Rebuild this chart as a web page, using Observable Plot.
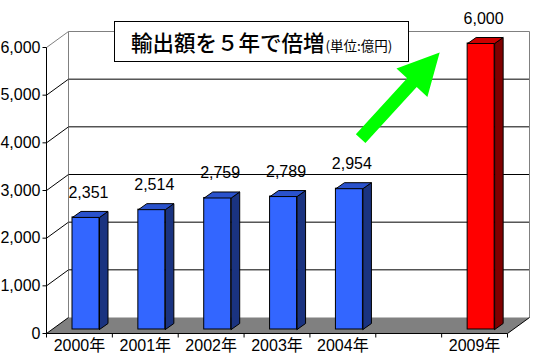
<!DOCTYPE html>
<html>
<head>
<meta charset="utf-8">
<script src="https://cdn.jsdelivr.net/npm/d3@7"></script>
<script src="https://cdn.jsdelivr.net/npm/@observablehq/plot@0.6"></script>
<style>
  html, body { margin: 0; padding: 0; background: #fff; }
  #wrap { position: relative; width: 547px; height: 359px; overflow: hidden; }
  #title {
    position: absolute; left: 114px; top: 21px; width: 293px; height: 39px;
    border: 1px solid #000; background: #fff; box-sizing: content-box;
    display: flex; align-items: center; padding-left: 0;
    font-family: "Noto Sans CJK JP", sans-serif; color: #000; white-space: nowrap;
  }
  #title .big { font-size: 21.5px; margin-left: 16px; font-weight: 500; }
  #title .small { font-size: 13.5px; position: relative; top: 3px; margin-left: 1px; }
</style>
</head>
<body>
<div id="wrap">
  <div id="chart"></div>
  <div id="title"><span class="big">輸出額を５年で倍増</span><span class="small">(単位:億円)</span></div>
</div>
<script>
// ---- data ----
const categories = ["2000年", "2001年", "2002年", "2003年", "2004年", "", "2009年"];
const values = [2351, 2514, 2759, 2789, 2954, null, 6000];
const yTicks = [0, 1000, 2000, 3000, 4000, 5000, 6000];
const highlight = "2009年";
const arrowFrom = [4.77, 4090];   // in chart units (category index, 億円)
const arrowTo = [5.97, 5895];

// ---- layout ----
const W = 547, H = 359;
const X0 = 46, X1 = 507, Y0 = 333, Y1 = 47;
const n = categories.length;
const yMax = 6000;
const kx = n / (X1 - X0);      // data units per pixel (x)
const ky = yMax / (Y0 - Y1);   // data units per pixel (y)
const backDX = 22, backDY = 16;           // depth of the 3D box (px)
const barOff = 26, barW = 27;             // front face position inside band (px)
const barLift = 4, barDX = 8.5, barDY = 6; // bar front plane lift and bar depth (px)

const palette = {
  blue: {front: "#3366ff", top: "#2a52cc", side: "#1a3380"},
  red: {front: "#ff0000", top: "#cc0000", side: "#800000"}
};

const bars = categories.map((c, i) => ({c, i, v: values[i]})).filter(d => d.v != null);
const colOf = d => d.c === highlight ? palette.red : palette.blue;

// faces (polygons) of each bar, built from values through data units
const sideFaces = [], topFaces = [];
for (const d of bars) {
  const xl = d.i + barOff * kx, xr = d.i + (barOff + barW) * kx;
  const yb = barLift * ky, yt = d.v + barLift * ky;
  const ddx = barDX * kx, ddy = barDY * ky;
  const col = colOf(d);
  const side = [[xr, yb], [xr + ddx, yb + ddy], [xr + ddx, yt + ddy], [xr, yt], [xr, yb]];
  side.forEach(([x, y]) => sideFaces.push({id: d.c, x, y, fill: col.side}));
  const top = [[xl, yt], [xl + ddx, yt + ddy], [xr + ddx, yt + ddy], [xr, yt], [xl, yt]];
  top.forEach(([x, y]) => topFaces.push({id: d.c, x, y, fill: col.top}));
}

// floor parallelogram
const bkx = backDX * kx, bky = backDY * ky;
const floor = [[0, 0], [bkx, bky], [n + bkx, bky], [n, 0], [0, 0]].map(([x, y]) => ({x, y}));

// arrow polygon (geometry in pixels, converted to data units)
const toPix = (x, y) => [X0 + x / kx, Y0 - y / ky];
const toData = (px, py) => ({x: (px - X0) * kx, y: (Y0 - py) * ky});
function arrowPolygon() {
  const [ax, ay] = toPix(...arrowFrom), [bx, by] = toPix(...arrowTo);
  const L = Math.hypot(bx - ax, by - ay);
  const ux = (bx - ax) / L, uy = (by - ay) / L;
  const nx = -uy, ny = ux;
  const hl = 41, hw = 21, sw = 6.5;
  const cx = bx - ux * hl, cy = by - uy * hl;
  const pts = [
    [ax + nx * sw, ay + ny * sw], [cx + nx * sw, cy + ny * sw], [cx + nx * hw, cy + ny * hw],
    [bx, by],
    [cx - nx * hw, cy - ny * hw], [cx - nx * sw, cy - ny * sw], [ax - nx * sw, ay - ny * sw],
    [ax + nx * sw, ay + ny * sw]
  ];
  return pts.map(([x, y]) => toData(x, y));
}

const fmt = d3.format(",");
const numFont = "'Liberation Sans', Arial, 'Noto Sans CJK JP', sans-serif";

const chart = Plot.plot({
  width: W, height: H,
  marginLeft: 0, marginRight: 0, marginTop: 0, marginBottom: 0,
  x: {domain: [0, n], range: [X0, X1], axis: null},
  y: {domain: [0, yMax], range: [Y0, Y1], axis: null},
  color: {type: "identity"},
  style: {background: "#fff", fontFamily: numFont, color: "#000", overflow: "visible"},
  marks: [
    // floor
    Plot.line(floor, {x: "x", y: "y", fill: "#808080", stroke: "none"}),
    // back wall gridlines
    Plot.link(yTicks.filter(v => v > 0 && v < yMax), {
      x1: () => bkx, x2: () => n + bkx, y1: v => v + bky, y2: v => v + bky, stroke: "#000", strokeWidth: 1
    }),
    // back wall border (top, left, right)
    Plot.link([yMax], {x1: () => bkx, x2: () => n + bkx, y1: v => v + bky, y2: v => v + bky, stroke: "#808080"}),
    Plot.link([0, n], {x1: d => d + bkx, x2: d => d + bkx, y1: () => bky, y2: () => yMax + bky, stroke: "#808080"}),
    // left side diagonals
    Plot.link(yTicks, {
      x1: () => 0, x2: () => bkx, y1: v => v, y2: v => v + bky,
      stroke: v => v === yMax ? "#808080" : "#000", strokeWidth: 1
    }),
    // floor right edge
    Plot.link([0], {x1: () => n, x2: () => n + bkx, y1: () => 0, y2: () => bky, stroke: "#000"}),
    // front y axis line
    Plot.link([0], {x1: () => 0, x2: () => 0, y1: () => 0, y2: () => yMax, stroke: "#000"}),
    // y ticks
    Plot.link(yTicks, {x1: () => -4 * kx, x2: () => 0, y1: v => v, y2: v => v, stroke: "#000"}),
    // x axis line and ticks
    Plot.link([0], {x1: () => 0, x2: () => n, y1: () => 0, y2: () => 0, stroke: "#000"}),
    Plot.link(d3.range(n + 1), {x1: d => d, x2: d => d, y1: () => 0, y2: () => -4 * ky, stroke: "#000"}),
    // y tick labels
    Plot.text(yTicks, {x: () => 0, y: v => v, dx: -6, textAnchor: "end", text: v => fmt(v), fontSize: 16, fill: "#000"}),
    // x labels
    Plot.text(categories.map((c, i) => ({c, i})), {x: d => d.i + 0.5, y: () => 0, dy: 12.5, text: "c", fontSize: 16, fill: "#000"}),
    // bars: front faces
    Plot.rect(bars, {
      x1: d => d.i + barOff * kx, x2: d => d.i + (barOff + barW) * kx,
      y1: () => barLift * ky, y2: d => d.v + barLift * ky,
      fill: d => colOf(d).front, stroke: "#000", strokeWidth: 1
    }),
    // side faces and top faces
    Plot.line(sideFaces, {x: "x", y: "y", z: "id", fill: "fill", stroke: "#000", strokeWidth: 1}),
    Plot.line(topFaces, {x: "x", y: "y", z: "id", fill: "fill", stroke: "#000", strokeWidth: 1}),
    // value labels
    Plot.text(bars, {x: d => d.i + 0.5 + 9 * kx, y: d => d.v + barLift * ky, dy: -25, text: d => fmt(d.v), fontSize: 16, fill: "#000"}),
    // green arrow
    Plot.line(arrowPolygon(), {x: "x", y: "y", fill: "#00ff00", stroke: "none"})
  ]
});
document.getElementById("chart").appendChild(chart);
</script>
</body>
</html>
